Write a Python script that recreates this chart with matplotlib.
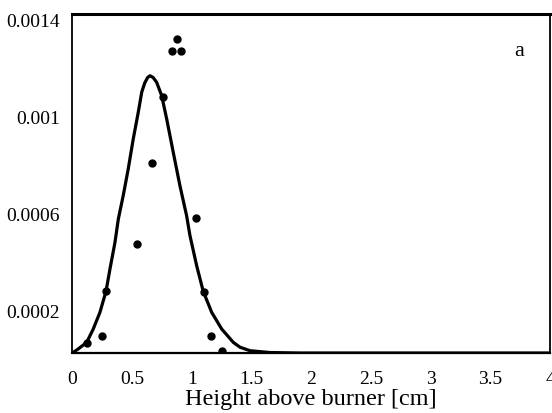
import numpy as np
import matplotlib
matplotlib.use("Agg")
import matplotlib.pyplot as plt
from matplotlib.transforms import ScaledTranslation

# Measured points (height in cm, value)
meas_x = [0.124, 0.245, 0.281, 0.538, 0.663, 0.760, 0.836, 0.873, 0.906, 1.032, 1.101, 1.160, 1.255]
meas_y = [0.000041, 0.000071, 0.000255, 0.00045, 0.000785, 0.001056, 0.001246, 0.001297, 0.001246,
          0.000558, 0.000253, 0.000071, 0.0000095]

# Model curve (y in units of 1e-4)
curve_x = [0.0, 0.007, 0.049, 0.119, 0.174, 0.230, 0.281, 0.314, 0.356, 0.384, 0.425, 0.467,
           0.509, 0.551, 0.580, 0.605, 0.630, 0.649, 0.675, 0.705, 0.747, 0.789, 0.844, 0.900, 0.956,
           0.984, 1.040, 1.095, 1.166, 1.250, 1.347, 1.403, 1.487, 1.654, 1.905, 4.0]
curve_y = [0.0, 0.03, 0.17, 0.44, 0.99, 1.68, 2.55, 3.47, 4.57, 5.53, 6.50, 7.60,
           8.84, 9.94, 10.77, 11.15, 11.38, 11.45, 11.38, 11.18, 10.63, 9.67, 8.29, 6.91, 5.67,
           4.85, 3.61, 2.55, 1.68, 0.99, 0.44, 0.24, 0.095, 0.02, 0.0, 0.0]

xticks = [0, 0.5, 1, 1.5, 2, 2.5, 3, 3.5, 4]
xtick_labels = ["0", "0.5", "1", "1.5", "2", "2.5", "3", "3.5", "4"]
yticks = [0.0002, 0.0006, 0.001, 0.0014]
ytick_labels = ["0.0002", "0.0006", "0.001", "0.0014"]

plt.rcParams['font.family'] = ['Liberation Serif', 'DejaVu Serif']

fig = plt.figure(figsize=(5.52, 4.14), dpi=100)
ax = fig.add_axes([0.1313, 0.1449, 0.8651, 0.8189])

# Curve and measured points
ax.plot(curve_x, np.array(curve_y) * 1e-4, color='black', lw=2.3,
        solid_capstyle='round', solid_joinstyle='round')
ax.plot(meas_x, meas_y, 'o', color='black', markersize=5)

ax.set_xlim(0, 4)
ax.set_ylim(0, 0.0014)
ax.set_xticks(xticks)
ax.set_xticklabels(xtick_labels, fontsize=14)
ax.set_yticks(yticks)
ax.set_yticklabels(ytick_labels, fontsize=14)
ax.tick_params(axis='both', length=0)
ax.tick_params(axis='x', pad=12)
ax.tick_params(axis='y', pad=9)

# Shift y labels slightly down like the original scan
offset = ScaledTranslation(0, -6 / 100, fig.dpi_scale_trans)
for lab in ax.get_yticklabels():
    lab.set_transform(lab.get_transform() + offset)

ax.spines['top'].set_linewidth(2.2)
ax.spines['bottom'].set_linewidth(1.6)
ax.spines['left'].set_linewidth(1.3)
ax.spines['right'].set_linewidth(1.3)

ax.set_xlabel("Height above burner [cm]", fontsize=17.5, labelpad=1)
ax.text(3.74, 0.00125, "a", fontsize=16, ha='center', va='center')

fig.savefig("out.png", dpi=100)
